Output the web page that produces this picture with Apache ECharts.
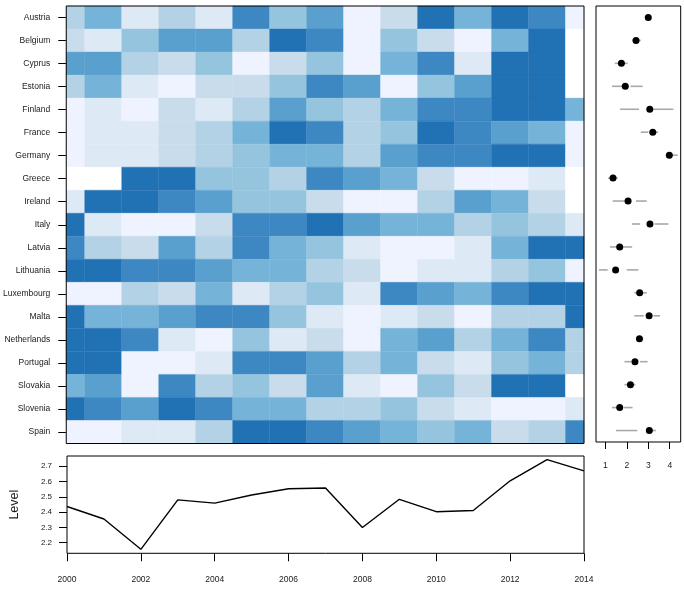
<!DOCTYPE html>
<html>
<head>
<meta charset="utf-8">
<script src="https://cdn.jsdelivr.net/npm/echarts@6/dist/echarts.min.js"></script>
<style>
  html, body { margin: 0; padding: 0; background: #fff; }
  #chart { width: 685px; height: 589px; }
</style>
</head>
<body>
<div id="chart"></div>
<script>
// countries, top to bottom
const countries = ['Austria', 'Belgium', 'Cyprus', 'Estonia', 'Finland', 'France', 'Germany', 'Greece',
  'Ireland', 'Italy', 'Latvia', 'Lithuania', 'Luxembourg', 'Malta', 'Netherlands', 'Portugal',
  'Slovakia', 'Slovenia', 'Spain'];
const years = [2000, 2001, 2002, 2003, 2004, 2005, 2006, 2007, 2008, 2009, 2010, 2011, 2012, 2013, 2014];

// shade level of each cell (0 = empty, 9 = darkest), one row per country, 2000..2014
const shadeLevels = [
  [4, 6, 2, 4, 2, 8, 5, 7, 1, 3, 9, 6, 9, 8, 1],
  [3, 2, 5, 7, 7, 4, 9, 8, 1, 5, 3, 1, 6, 9, 0],
  [7, 7, 4, 3, 5, 1, 3, 5, 1, 6, 8, 2, 9, 9, 0],
  [4, 6, 2, 1, 3, 3, 5, 8, 7, 1, 5, 7, 9, 9, 0],
  [1, 2, 1, 3, 2, 4, 7, 5, 4, 6, 8, 8, 9, 9, 6],
  [1, 2, 2, 3, 4, 6, 9, 8, 4, 5, 9, 8, 7, 6, 1],
  [1, 2, 2, 3, 4, 5, 6, 6, 4, 7, 8, 8, 9, 9, 1],
  [0, 0, 9, 9, 5, 5, 4, 8, 7, 6, 3, 1, 1, 2, 0],
  [2, 9, 9, 8, 7, 5, 5, 3, 1, 1, 4, 7, 6, 3, 0],
  [9, 2, 1, 1, 3, 8, 8, 9, 7, 6, 6, 4, 5, 4, 2],
  [8, 4, 3, 7, 4, 8, 6, 5, 2, 1, 1, 2, 6, 9, 9],
  [9, 9, 8, 8, 7, 6, 6, 4, 3, 1, 2, 2, 4, 5, 1],
  [1, 1, 4, 3, 6, 2, 4, 5, 2, 8, 7, 6, 8, 9, 9],
  [9, 6, 6, 7, 8, 8, 5, 2, 1, 2, 3, 1, 4, 4, 9],
  [9, 9, 8, 2, 1, 5, 2, 3, 1, 6, 7, 4, 6, 8, 4],
  [9, 9, 1, 1, 2, 8, 8, 7, 4, 6, 3, 2, 5, 6, 4],
  [6, 7, 1, 8, 4, 5, 3, 7, 2, 1, 5, 3, 9, 9, 0],
  [9, 8, 7, 9, 8, 6, 6, 4, 4, 5, 3, 2, 1, 1, 2],
  [1, 1, 2, 2, 4, 9, 9, 8, 7, 6, 5, 6, 3, 4, 8]
];
const shades = ['#FFFFFF', '#EFF3FF', '#DEE9F6', '#C8DCEC', '#B3D2E6', '#95C4DF', '#76B3D9', '#59A0CE', '#3D87C3', '#2171B5'];

// right panel: dot and whiskers per country
const meanScore   = [3.00, 2.43, 1.75, 1.93, 3.07, 3.21, 3.98, 1.36, 2.06, 3.08, 1.67, 1.48, 2.60, 3.04, 2.59, 2.38, 2.17, 1.67, 3.05];
const whiskerLow  = [2.90, 2.27, 1.44, 1.31, 1.69, 2.65, 3.85, 1.13, 1.34, 2.24, 1.22, 0.71, 2.35, 2.35, 2.46, 1.89, 1.89, 1.31, 1.50];
const boxLow      = [2.95, 2.38, 1.65, 1.85, 2.57, 3.00, 3.92, 1.30, 2.20, 2.62, 1.55, 1.11, 2.50, 2.79, 2.52, 2.20, 2.10, 1.53, 2.49];
const boxHigh     = [3.05, 2.50, 1.85, 2.17, 3.20, 3.30, 4.05, 1.42, 2.43, 3.30, 1.80, 2.00, 2.70, 3.24, 2.66, 2.62, 2.25, 1.86, 3.18];
const whiskerHigh = [3.10, 2.65, 2.04, 2.74, 4.17, 3.46, 4.37, 1.58, 2.93, 3.94, 2.25, 2.54, 2.93, 3.55, 2.77, 2.97, 2.40, 2.27, 3.35];

// bottom panel
const levelByYear = [2.437, 2.355, 2.157, 2.48, 2.459, 2.512, 2.553, 2.558, 2.30, 2.484, 2.403, 2.411, 2.605, 2.743, 2.67];

const font = "'Liberation Sans', Arial, Helvetica, sans-serif";
const textColor = '#1a1a1a';

let cells = [];
for (let i = 0; i < countries.length; i++) {
  for (let j = 0; j < years.length; j++) {
    cells.push([years[j], i, shadeLevels[i][j]]);
  }
}
let whiskers = countries.map((c, i) => [i, whiskerLow[i], boxLow[i], boxHigh[i], whiskerHigh[i]]);
let dots = countries.map((c, i) => [meanScore[i], i]);
let line = years.map((y, i) => [y, levelByYear[i]]);

let chart = echarts.init(document.getElementById('chart'));

let option = {
  animation: false,
  textStyle: { fontFamily: font },
  grid: [
    { left: 65.7, top: 6, width: 518.3, height: 437.5, show: true, backgroundColor: 'transparent', borderColor: '#000', borderWidth: 1, z: 5 },
    { left: 596, top: 6, width: 84.7, height: 436, show: true, backgroundColor: 'transparent', borderColor: '#000', borderWidth: 1, z: 5 },
    { left: 65.7, top: 456, width: 518.3, height: 97.3, show: true, backgroundColor: 'transparent', borderColor: '#000', borderWidth: 1, z: 5 }
  ],
  xAxis: [
    { gridIndex: 0, type: 'value', min: 2000, max: 2014, show: false },
    {
      gridIndex: 1, type: 'value', min: 0.567, max: 4.51,
      axisLine: { show: false },
      axisTick: { show: true, length: 7, customValues: [1, 2, 3, 4], lineStyle: { color: '#000' } },
      axisLabel: { customValues: [1, 2, 3, 4], fontSize: 8.5, color: textColor, margin: 19, fontFamily: font },
      splitLine: { show: false }
    },
    {
      gridIndex: 2, type: 'value', min: 2000, max: 2014, interval: 2,
      axisLine: { show: false },
      axisTick: { show: true, length: 8, lineStyle: { color: '#000' } },
      axisLabel: { fontSize: 8.5, color: textColor, margin: 22, fontFamily: font, formatter: v => String(v) },
      splitLine: { show: false }
    }
  ],
  yAxis: [
    {
      gridIndex: 0, type: 'category', data: countries, inverse: true,
      axisLine: { show: false },
      axisTick: { show: true, length: 8, alignWithLabel: true, lineStyle: { color: '#000' } },
      axisLabel: { fontSize: 8.5, color: textColor, margin: 16, fontFamily: font },
      splitLine: { show: false }
    },
    { gridIndex: 1, type: 'category', data: countries, inverse: true, show: false },
    {
      gridIndex: 2, type: 'value', min: 2.131, max: 2.767,
      name: 'Level', nameLocation: 'middle', nameGap: 46,
      nameTextStyle: { fontSize: 12.5, color: textColor, fontFamily: font },
      axisLine: { show: false },
      axisTick: { show: true, length: 8, customValues: [2.2, 2.3, 2.4, 2.5, 2.6, 2.7], lineStyle: { color: '#000' } },
      axisLabel: { customValues: [2.2, 2.3, 2.4, 2.5, 2.6, 2.7], fontSize: 8, color: textColor, margin: 15, fontFamily: font },
      splitLine: { show: false }
    }
  ],
  series: [
    {
      type: 'custom',
      xAxisIndex: 0, yAxisIndex: 0,
      silent: true,
      encode: { x: 0, y: 1 },
      data: cells,
      renderItem: function (params, api) {
        let a = api.coord([api.value(0) - 0.5, api.value(1)]);
        let b = api.coord([api.value(0) + 0.5, api.value(1)]);
        let h = api.size([0, 1])[1];
        let rect = echarts.graphic.clipRectByRect(
          { x: a[0], y: a[1] - h / 2, width: b[0] - a[0], height: h },
          { x: params.coordSys.x, y: params.coordSys.y, width: params.coordSys.width, height: params.coordSys.height }
        );
        if (!rect) return;
        let fill = shades[api.value(2)];
        return { type: 'rect', shape: rect, style: { fill: fill, stroke: fill, lineWidth: 0.4 } };
      }
    },
    {
      type: 'custom',
      xAxisIndex: 1, yAxisIndex: 1,
      silent: true,
      encode: { x: [1, 2, 3, 4], y: 0 },
      data: whiskers,
      renderItem: function (params, api) {
        let i = api.value(0);
        let p1 = api.coord([api.value(1), i]);
        let p2 = api.coord([api.value(2), i]);
        let p3 = api.coord([api.value(3), i]);
        let p4 = api.coord([api.value(4), i]);
        let st = { stroke: '#a9a9a9', lineWidth: 1.6 };
        return {
          type: 'group',
          children: [
            { type: 'line', shape: { x1: p1[0], y1: p1[1], x2: p2[0], y2: p2[1] }, style: st },
            { type: 'line', shape: { x1: p3[0], y1: p3[1], x2: p4[0], y2: p4[1] }, style: st }
          ]
        };
      }
    },
    {
      type: 'scatter',
      xAxisIndex: 1, yAxisIndex: 1,
      silent: true,
      symbol: 'circle',
      symbolSize: 7,
      itemStyle: { color: '#000', opacity: 1 },
      data: dots,
      z: 3
    },
    {
      type: 'line',
      xAxisIndex: 2, yAxisIndex: 2,
      silent: true,
      showSymbol: false,
      lineStyle: { color: '#000', width: 1.4 },
      data: line
    }
  ]
};

chart.setOption(option);
</script>
</body>
</html>
